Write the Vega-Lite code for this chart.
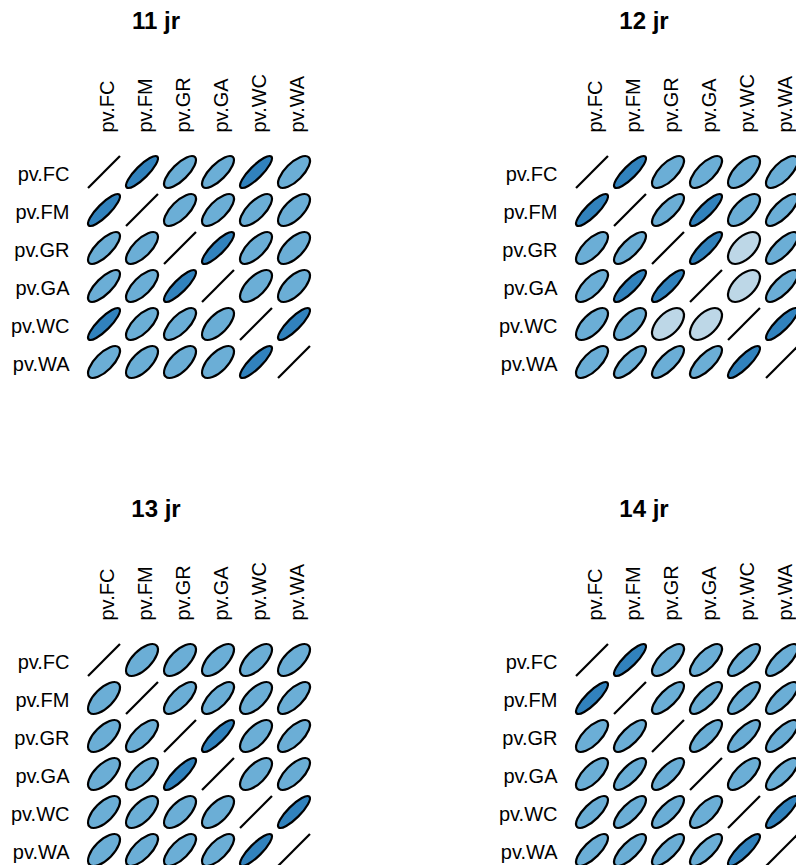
{
"$schema": "https://vega.github.io/schema/vega-lite/v6.json",
"background": "white",
"padding": {"left": 10, "top": 10, "right": 0, "bottom": 0},
"config": {
  "view": {"stroke": null},
  "font": "Liberation Sans",
  "axis": {"domain": false, "ticks": false, "grid": false, "title": null, "labelFont": "Liberation Sans", "labelFontSize": 20, "labelColor": "black", "labelOverlap": false},
  "title": {"font": "Liberation Sans", "fontSize": 24, "fontWeight": "bold", "color": "black", "offset": 39, "dx": -43}
},
"data": {"values": [
{"panel":"11 jr","row":"pv.FC","col":"pv.FC","r":1},{"panel":"11 jr","row":"pv.FC","col":"pv.FM","r":0.85},{"panel":"11 jr","row":"pv.FC","col":"pv.GR","r":0.75},{"panel":"11 jr","row":"pv.FC","col":"pv.GA","r":0.75},{"panel":"11 jr","row":"pv.FC","col":"pv.WC","r":0.85},{"panel":"11 jr","row":"pv.FC","col":"pv.WA","r":0.7},
{"panel":"11 jr","row":"pv.FM","col":"pv.FC","r":0.85},{"panel":"11 jr","row":"pv.FM","col":"pv.FM","r":1},{"panel":"11 jr","row":"pv.FM","col":"pv.GR","r":0.7},{"panel":"11 jr","row":"pv.FM","col":"pv.GA","r":0.7},{"panel":"11 jr","row":"pv.FM","col":"pv.WC","r":0.7},{"panel":"11 jr","row":"pv.FM","col":"pv.WA","r":0.65},
{"panel":"11 jr","row":"pv.GR","col":"pv.FC","r":0.75},{"panel":"11 jr","row":"pv.GR","col":"pv.FM","r":0.7},{"panel":"11 jr","row":"pv.GR","col":"pv.GR","r":1},{"panel":"11 jr","row":"pv.GR","col":"pv.GA","r":0.85},{"panel":"11 jr","row":"pv.GR","col":"pv.WC","r":0.7},{"panel":"11 jr","row":"pv.GR","col":"pv.WA","r":0.65},
{"panel":"11 jr","row":"pv.GA","col":"pv.FC","r":0.75},{"panel":"11 jr","row":"pv.GA","col":"pv.FM","r":0.7},{"panel":"11 jr","row":"pv.GA","col":"pv.GR","r":0.85},{"panel":"11 jr","row":"pv.GA","col":"pv.GA","r":1},{"panel":"11 jr","row":"pv.GA","col":"pv.WC","r":0.65},{"panel":"11 jr","row":"pv.GA","col":"pv.WA","r":0.65},
{"panel":"11 jr","row":"pv.WC","col":"pv.FC","r":0.85},{"panel":"11 jr","row":"pv.WC","col":"pv.FM","r":0.7},{"panel":"11 jr","row":"pv.WC","col":"pv.GR","r":0.7},{"panel":"11 jr","row":"pv.WC","col":"pv.GA","r":0.65},{"panel":"11 jr","row":"pv.WC","col":"pv.WC","r":1},{"panel":"11 jr","row":"pv.WC","col":"pv.WA","r":0.85},
{"panel":"11 jr","row":"pv.WA","col":"pv.FC","r":0.7},{"panel":"11 jr","row":"pv.WA","col":"pv.FM","r":0.65},{"panel":"11 jr","row":"pv.WA","col":"pv.GR","r":0.65},{"panel":"11 jr","row":"pv.WA","col":"pv.GA","r":0.65},{"panel":"11 jr","row":"pv.WA","col":"pv.WC","r":0.85},{"panel":"11 jr","row":"pv.WA","col":"pv.WA","r":1},
{"panel":"12 jr","row":"pv.FC","col":"pv.FC","r":1},{"panel":"12 jr","row":"pv.FC","col":"pv.FM","r":0.85},{"panel":"12 jr","row":"pv.FC","col":"pv.GR","r":0.7},{"panel":"12 jr","row":"pv.FC","col":"pv.GA","r":0.7},{"panel":"12 jr","row":"pv.FC","col":"pv.WC","r":0.65},{"panel":"12 jr","row":"pv.FC","col":"pv.WA","r":0.7},
{"panel":"12 jr","row":"pv.FM","col":"pv.FC","r":0.85},{"panel":"12 jr","row":"pv.FM","col":"pv.FM","r":1},{"panel":"12 jr","row":"pv.FM","col":"pv.GR","r":0.75},{"panel":"12 jr","row":"pv.FM","col":"pv.GA","r":0.85},{"panel":"12 jr","row":"pv.FM","col":"pv.WC","r":0.65},{"panel":"12 jr","row":"pv.FM","col":"pv.WA","r":0.75},
{"panel":"12 jr","row":"pv.GR","col":"pv.FC","r":0.7},{"panel":"12 jr","row":"pv.GR","col":"pv.FM","r":0.75},{"panel":"12 jr","row":"pv.GR","col":"pv.GR","r":1},{"panel":"12 jr","row":"pv.GR","col":"pv.GA","r":0.85},{"panel":"12 jr","row":"pv.GR","col":"pv.WC","r":0.55},{"panel":"12 jr","row":"pv.GR","col":"pv.WA","r":0.75},
{"panel":"12 jr","row":"pv.GA","col":"pv.FC","r":0.7},{"panel":"12 jr","row":"pv.GA","col":"pv.FM","r":0.85},{"panel":"12 jr","row":"pv.GA","col":"pv.GR","r":0.85},{"panel":"12 jr","row":"pv.GA","col":"pv.GA","r":1},{"panel":"12 jr","row":"pv.GA","col":"pv.WC","r":0.55},{"panel":"12 jr","row":"pv.GA","col":"pv.WA","r":0.75},
{"panel":"12 jr","row":"pv.WC","col":"pv.FC","r":0.65},{"panel":"12 jr","row":"pv.WC","col":"pv.FM","r":0.65},{"panel":"12 jr","row":"pv.WC","col":"pv.GR","r":0.55},{"panel":"12 jr","row":"pv.WC","col":"pv.GA","r":0.55},{"panel":"12 jr","row":"pv.WC","col":"pv.WC","r":1},{"panel":"12 jr","row":"pv.WC","col":"pv.WA","r":0.85},
{"panel":"12 jr","row":"pv.WA","col":"pv.FC","r":0.7},{"panel":"12 jr","row":"pv.WA","col":"pv.FM","r":0.75},{"panel":"12 jr","row":"pv.WA","col":"pv.GR","r":0.75},{"panel":"12 jr","row":"pv.WA","col":"pv.GA","r":0.75},{"panel":"12 jr","row":"pv.WA","col":"pv.WC","r":0.85},{"panel":"12 jr","row":"pv.WA","col":"pv.WA","r":1},
{"panel":"13 jr","row":"pv.FC","col":"pv.FC","r":1},{"panel":"13 jr","row":"pv.FC","col":"pv.FM","r":0.65},{"panel":"13 jr","row":"pv.FC","col":"pv.GR","r":0.65},{"panel":"13 jr","row":"pv.FC","col":"pv.GA","r":0.65},{"panel":"13 jr","row":"pv.FC","col":"pv.WC","r":0.65},{"panel":"13 jr","row":"pv.FC","col":"pv.WA","r":0.65},
{"panel":"13 jr","row":"pv.FM","col":"pv.FC","r":0.65},{"panel":"13 jr","row":"pv.FM","col":"pv.FM","r":1},{"panel":"13 jr","row":"pv.FM","col":"pv.GR","r":0.7},{"panel":"13 jr","row":"pv.FM","col":"pv.GA","r":0.7},{"panel":"13 jr","row":"pv.FM","col":"pv.WC","r":0.65},{"panel":"13 jr","row":"pv.FM","col":"pv.WA","r":0.7},
{"panel":"13 jr","row":"pv.GR","col":"pv.FC","r":0.65},{"panel":"13 jr","row":"pv.GR","col":"pv.FM","r":0.7},{"panel":"13 jr","row":"pv.GR","col":"pv.GR","r":1},{"panel":"13 jr","row":"pv.GR","col":"pv.GA","r":0.85},{"panel":"13 jr","row":"pv.GR","col":"pv.WC","r":0.65},{"panel":"13 jr","row":"pv.GR","col":"pv.WA","r":0.7},
{"panel":"13 jr","row":"pv.GA","col":"pv.FC","r":0.65},{"panel":"13 jr","row":"pv.GA","col":"pv.FM","r":0.7},{"panel":"13 jr","row":"pv.GA","col":"pv.GR","r":0.85},{"panel":"13 jr","row":"pv.GA","col":"pv.GA","r":1},{"panel":"13 jr","row":"pv.GA","col":"pv.WC","r":0.65},{"panel":"13 jr","row":"pv.GA","col":"pv.WA","r":0.7},
{"panel":"13 jr","row":"pv.WC","col":"pv.FC","r":0.65},{"panel":"13 jr","row":"pv.WC","col":"pv.FM","r":0.65},{"panel":"13 jr","row":"pv.WC","col":"pv.GR","r":0.65},{"panel":"13 jr","row":"pv.WC","col":"pv.GA","r":0.65},{"panel":"13 jr","row":"pv.WC","col":"pv.WC","r":1},{"panel":"13 jr","row":"pv.WC","col":"pv.WA","r":0.85},
{"panel":"13 jr","row":"pv.WA","col":"pv.FC","r":0.65},{"panel":"13 jr","row":"pv.WA","col":"pv.FM","r":0.7},{"panel":"13 jr","row":"pv.WA","col":"pv.GR","r":0.7},{"panel":"13 jr","row":"pv.WA","col":"pv.GA","r":0.7},{"panel":"13 jr","row":"pv.WA","col":"pv.WC","r":0.85},{"panel":"13 jr","row":"pv.WA","col":"pv.WA","r":1},
{"panel":"14 jr","row":"pv.FC","col":"pv.FC","r":1},{"panel":"14 jr","row":"pv.FC","col":"pv.FM","r":0.85},{"panel":"14 jr","row":"pv.FC","col":"pv.GR","r":0.7},{"panel":"14 jr","row":"pv.FC","col":"pv.GA","r":0.7},{"panel":"14 jr","row":"pv.FC","col":"pv.WC","r":0.75},{"panel":"14 jr","row":"pv.FC","col":"pv.WA","r":0.75},
{"panel":"14 jr","row":"pv.FM","col":"pv.FC","r":0.85},{"panel":"14 jr","row":"pv.FM","col":"pv.FM","r":1},{"panel":"14 jr","row":"pv.FM","col":"pv.GR","r":0.75},{"panel":"14 jr","row":"pv.FM","col":"pv.GA","r":0.75},{"panel":"14 jr","row":"pv.FM","col":"pv.WC","r":0.75},{"panel":"14 jr","row":"pv.FM","col":"pv.WA","r":0.75},
{"panel":"14 jr","row":"pv.GR","col":"pv.FC","r":0.7},{"panel":"14 jr","row":"pv.GR","col":"pv.FM","r":0.75},{"panel":"14 jr","row":"pv.GR","col":"pv.GR","r":1},{"panel":"14 jr","row":"pv.GR","col":"pv.GA","r":0.75},{"panel":"14 jr","row":"pv.GR","col":"pv.WC","r":0.75},{"panel":"14 jr","row":"pv.GR","col":"pv.WA","r":0.75},
{"panel":"14 jr","row":"pv.GA","col":"pv.FC","r":0.7},{"panel":"14 jr","row":"pv.GA","col":"pv.FM","r":0.75},{"panel":"14 jr","row":"pv.GA","col":"pv.GR","r":0.75},{"panel":"14 jr","row":"pv.GA","col":"pv.GA","r":1},{"panel":"14 jr","row":"pv.GA","col":"pv.WC","r":0.7},{"panel":"14 jr","row":"pv.GA","col":"pv.WA","r":0.75},
{"panel":"14 jr","row":"pv.WC","col":"pv.FC","r":0.75},{"panel":"14 jr","row":"pv.WC","col":"pv.FM","r":0.75},{"panel":"14 jr","row":"pv.WC","col":"pv.GR","r":0.75},{"panel":"14 jr","row":"pv.WC","col":"pv.GA","r":0.7},{"panel":"14 jr","row":"pv.WC","col":"pv.WC","r":1},{"panel":"14 jr","row":"pv.WC","col":"pv.WA","r":0.85},
{"panel":"14 jr","row":"pv.WA","col":"pv.FC","r":0.75},{"panel":"14 jr","row":"pv.WA","col":"pv.FM","r":0.75},{"panel":"14 jr","row":"pv.WA","col":"pv.GR","r":0.75},{"panel":"14 jr","row":"pv.WA","col":"pv.GA","r":0.75},{"panel":"14 jr","row":"pv.WA","col":"pv.WC","r":0.85},{"panel":"14 jr","row":"pv.WA","col":"pv.WA","r":1}
]},
"columns": 2,
"bounds": "flush",
"spacing": 260,
"concat": [
{"title": "11 jr", "width": 228, "height": 228,
 "transform": [{"filter": "datum.panel === '11 jr'"}],
 "mark": {"type": "point", "filled": true, "size": 1020, "stroke": "black", "strokeWidth": 2.2, "opacity": 1},
 "encoding": {
  "x": {"field": "col", "type": "nominal", "sort": ["pv.FC","pv.FM","pv.GR","pv.GA","pv.WC","pv.WA"], "axis": {"orient": "top", "labelAngle": -90, "labelPadding": 21, "labelOffset": 3}},
  "y": {"field": "row", "type": "nominal", "sort": ["pv.FC","pv.FM","pv.GR","pv.GA","pv.WC","pv.WA"], "axis": {"orient": "left", "labelPadding": 16, "labelOffset": 2}},
  "shape": {"field": "r", "type": "ordinal", "legend": null, "scale": {"domain": [0.55,0.6,0.65,0.7,0.75,0.8,0.85,0.9,1], "range": [
   "M0.8803,-0.8803C0.6183,-1.1423 0.0119,-0.9605 -0.4743,-0.4743C-0.9605,0.0119 -1.1423,0.6183 -0.8803,0.8803C-0.6183,1.1423 -0.0119,0.9605 0.4743,0.4743C0.9605,-0.0119 1.1423,-0.6183 0.8803,-0.8803Z",
   "M0.8944,-0.8944C0.6474,-1.1414 0.0468,-0.9412 -0.4472,-0.4472C-0.9412,0.0468 -1.1414,0.6474 -0.8944,0.8944C-0.6474,1.1414 -0.0468,0.9412 0.4472,0.4472C0.9412,-0.0468 1.1414,-0.6474 0.8944,-0.8944Z",
   "M0.9083,-0.9083C0.6773,-1.1393 0.0834,-0.92 -0.4183,-0.4183C-0.92,0.0834 -1.1393,0.6773 -0.9083,0.9083C-0.6773,1.1393 -0.0834,0.92 0.4183,0.4183C0.92,-0.0834 1.1393,-0.6773 0.9083,-0.9083Z",
   "M0.922,-0.922C0.7081,-1.1359 0.1219,-0.8965 -0.3873,-0.3873C-0.8965,0.1219 -1.1359,0.7081 -0.922,0.922C-0.7081,1.1359 -0.1219,0.8965 0.3873,0.3873C0.8965,-0.1219 1.1359,-0.7081 0.922,-0.922Z",
   "M0.9354,-0.9354C0.7401,-1.1307 0.163,-0.8702 -0.3536,-0.3536C-0.8702,0.163 -1.1307,0.7401 -0.9354,0.9354C-0.7401,1.1307 -0.163,0.8702 0.3536,0.3536C0.8702,-0.163 1.1307,-0.7401 0.9354,-0.9354Z",
   "M0.9487,-0.9487C0.7741,-1.1233 0.2078,-0.8402 -0.3162,-0.3162C-0.8402,0.2078 -1.1233,0.7741 -0.9487,0.9487C-0.7741,1.1233 -0.2078,0.8402 0.3162,0.3162C0.8402,-0.2078 1.1233,-0.7741 0.9487,-0.9487Z",
   "M0.9618,-0.9618C0.8105,-1.1131 0.2573,-0.8051 -0.2739,-0.2739C-0.8051,0.2573 -1.1131,0.8105 -0.9618,0.9618C-0.8105,1.1131 -0.2573,0.8051 0.2739,0.2739C0.8051,-0.2573 1.1131,-0.8105 0.9618,-0.9618Z",
   "M0.9747,-0.9747C0.8512,-1.0982 0.3147,-0.7619 -0.2236,-0.2236C-0.7619,0.3147 -1.0982,0.8512 -0.9747,0.9747C-0.8512,1.0982 -0.3147,0.7619 0.2236,0.2236C0.7619,-0.3147 1.0982,-0.8512 0.9747,-0.9747Z",
   "M-1,1L1,-1"]}},
  "color": {"field": "r", "type": "quantitative", "legend": null, "scale": {"type": "threshold", "domain": [0.6, 0.8], "range": ["#BDD7E7", "#6BAED6", "#3182BD"]}}
 }},
{"title": "12 jr", "width": 228, "height": 228,
 "transform": [{"filter": "datum.panel === '12 jr'"}],
 "mark": {"type": "point", "filled": true, "size": 1020, "stroke": "black", "strokeWidth": 2.2, "opacity": 1},
 "encoding": {
  "x": {"field": "col", "type": "nominal", "sort": ["pv.FC","pv.FM","pv.GR","pv.GA","pv.WC","pv.WA"], "axis": {"orient": "top", "labelAngle": -90, "labelPadding": 21, "labelOffset": 3}},
  "y": {"field": "row", "type": "nominal", "sort": ["pv.FC","pv.FM","pv.GR","pv.GA","pv.WC","pv.WA"], "axis": {"orient": "left", "labelPadding": 16, "labelOffset": 2}},
  "shape": {"field": "r", "type": "ordinal", "legend": null, "scale": {"domain": [0.55,0.6,0.65,0.7,0.75,0.8,0.85,0.9,1], "range": [
   "M0.8803,-0.8803C0.6183,-1.1423 0.0119,-0.9605 -0.4743,-0.4743C-0.9605,0.0119 -1.1423,0.6183 -0.8803,0.8803C-0.6183,1.1423 -0.0119,0.9605 0.4743,0.4743C0.9605,-0.0119 1.1423,-0.6183 0.8803,-0.8803Z",
   "M0.8944,-0.8944C0.6474,-1.1414 0.0468,-0.9412 -0.4472,-0.4472C-0.9412,0.0468 -1.1414,0.6474 -0.8944,0.8944C-0.6474,1.1414 -0.0468,0.9412 0.4472,0.4472C0.9412,-0.0468 1.1414,-0.6474 0.8944,-0.8944Z",
   "M0.9083,-0.9083C0.6773,-1.1393 0.0834,-0.92 -0.4183,-0.4183C-0.92,0.0834 -1.1393,0.6773 -0.9083,0.9083C-0.6773,1.1393 -0.0834,0.92 0.4183,0.4183C0.92,-0.0834 1.1393,-0.6773 0.9083,-0.9083Z",
   "M0.922,-0.922C0.7081,-1.1359 0.1219,-0.8965 -0.3873,-0.3873C-0.8965,0.1219 -1.1359,0.7081 -0.922,0.922C-0.7081,1.1359 -0.1219,0.8965 0.3873,0.3873C0.8965,-0.1219 1.1359,-0.7081 0.922,-0.922Z",
   "M0.9354,-0.9354C0.7401,-1.1307 0.163,-0.8702 -0.3536,-0.3536C-0.8702,0.163 -1.1307,0.7401 -0.9354,0.9354C-0.7401,1.1307 -0.163,0.8702 0.3536,0.3536C0.8702,-0.163 1.1307,-0.7401 0.9354,-0.9354Z",
   "M0.9487,-0.9487C0.7741,-1.1233 0.2078,-0.8402 -0.3162,-0.3162C-0.8402,0.2078 -1.1233,0.7741 -0.9487,0.9487C-0.7741,1.1233 -0.2078,0.8402 0.3162,0.3162C0.8402,-0.2078 1.1233,-0.7741 0.9487,-0.9487Z",
   "M0.9618,-0.9618C0.8105,-1.1131 0.2573,-0.8051 -0.2739,-0.2739C-0.8051,0.2573 -1.1131,0.8105 -0.9618,0.9618C-0.8105,1.1131 -0.2573,0.8051 0.2739,0.2739C0.8051,-0.2573 1.1131,-0.8105 0.9618,-0.9618Z",
   "M0.9747,-0.9747C0.8512,-1.0982 0.3147,-0.7619 -0.2236,-0.2236C-0.7619,0.3147 -1.0982,0.8512 -0.9747,0.9747C-0.8512,1.0982 -0.3147,0.7619 0.2236,0.2236C0.7619,-0.3147 1.0982,-0.8512 0.9747,-0.9747Z",
   "M-1,1L1,-1"]}},
  "color": {"field": "r", "type": "quantitative", "legend": null, "scale": {"type": "threshold", "domain": [0.6, 0.8], "range": ["#BDD7E7", "#6BAED6", "#3182BD"]}}
 }},
{"title": "13 jr", "width": 228, "height": 228,
 "transform": [{"filter": "datum.panel === '13 jr'"}],
 "mark": {"type": "point", "filled": true, "size": 1020, "stroke": "black", "strokeWidth": 2.2, "opacity": 1},
 "encoding": {
  "x": {"field": "col", "type": "nominal", "sort": ["pv.FC","pv.FM","pv.GR","pv.GA","pv.WC","pv.WA"], "axis": {"orient": "top", "labelAngle": -90, "labelPadding": 21, "labelOffset": 3}},
  "y": {"field": "row", "type": "nominal", "sort": ["pv.FC","pv.FM","pv.GR","pv.GA","pv.WC","pv.WA"], "axis": {"orient": "left", "labelPadding": 16, "labelOffset": 2}},
  "shape": {"field": "r", "type": "ordinal", "legend": null, "scale": {"domain": [0.55,0.6,0.65,0.7,0.75,0.8,0.85,0.9,1], "range": [
   "M0.8803,-0.8803C0.6183,-1.1423 0.0119,-0.9605 -0.4743,-0.4743C-0.9605,0.0119 -1.1423,0.6183 -0.8803,0.8803C-0.6183,1.1423 -0.0119,0.9605 0.4743,0.4743C0.9605,-0.0119 1.1423,-0.6183 0.8803,-0.8803Z",
   "M0.8944,-0.8944C0.6474,-1.1414 0.0468,-0.9412 -0.4472,-0.4472C-0.9412,0.0468 -1.1414,0.6474 -0.8944,0.8944C-0.6474,1.1414 -0.0468,0.9412 0.4472,0.4472C0.9412,-0.0468 1.1414,-0.6474 0.8944,-0.8944Z",
   "M0.9083,-0.9083C0.6773,-1.1393 0.0834,-0.92 -0.4183,-0.4183C-0.92,0.0834 -1.1393,0.6773 -0.9083,0.9083C-0.6773,1.1393 -0.0834,0.92 0.4183,0.4183C0.92,-0.0834 1.1393,-0.6773 0.9083,-0.9083Z",
   "M0.922,-0.922C0.7081,-1.1359 0.1219,-0.8965 -0.3873,-0.3873C-0.8965,0.1219 -1.1359,0.7081 -0.922,0.922C-0.7081,1.1359 -0.1219,0.8965 0.3873,0.3873C0.8965,-0.1219 1.1359,-0.7081 0.922,-0.922Z",
   "M0.9354,-0.9354C0.7401,-1.1307 0.163,-0.8702 -0.3536,-0.3536C-0.8702,0.163 -1.1307,0.7401 -0.9354,0.9354C-0.7401,1.1307 -0.163,0.8702 0.3536,0.3536C0.8702,-0.163 1.1307,-0.7401 0.9354,-0.9354Z",
   "M0.9487,-0.9487C0.7741,-1.1233 0.2078,-0.8402 -0.3162,-0.3162C-0.8402,0.2078 -1.1233,0.7741 -0.9487,0.9487C-0.7741,1.1233 -0.2078,0.8402 0.3162,0.3162C0.8402,-0.2078 1.1233,-0.7741 0.9487,-0.9487Z",
   "M0.9618,-0.9618C0.8105,-1.1131 0.2573,-0.8051 -0.2739,-0.2739C-0.8051,0.2573 -1.1131,0.8105 -0.9618,0.9618C-0.8105,1.1131 -0.2573,0.8051 0.2739,0.2739C0.8051,-0.2573 1.1131,-0.8105 0.9618,-0.9618Z",
   "M0.9747,-0.9747C0.8512,-1.0982 0.3147,-0.7619 -0.2236,-0.2236C-0.7619,0.3147 -1.0982,0.8512 -0.9747,0.9747C-0.8512,1.0982 -0.3147,0.7619 0.2236,0.2236C0.7619,-0.3147 1.0982,-0.8512 0.9747,-0.9747Z",
   "M-1,1L1,-1"]}},
  "color": {"field": "r", "type": "quantitative", "legend": null, "scale": {"type": "threshold", "domain": [0.6, 0.8], "range": ["#BDD7E7", "#6BAED6", "#3182BD"]}}
 }},
{"title": "14 jr", "width": 228, "height": 228,
 "transform": [{"filter": "datum.panel === '14 jr'"}],
 "mark": {"type": "point", "filled": true, "size": 1020, "stroke": "black", "strokeWidth": 2.2, "opacity": 1},
 "encoding": {
  "x": {"field": "col", "type": "nominal", "sort": ["pv.FC","pv.FM","pv.GR","pv.GA","pv.WC","pv.WA"], "axis": {"orient": "top", "labelAngle": -90, "labelPadding": 21, "labelOffset": 3}},
  "y": {"field": "row", "type": "nominal", "sort": ["pv.FC","pv.FM","pv.GR","pv.GA","pv.WC","pv.WA"], "axis": {"orient": "left", "labelPadding": 16, "labelOffset": 2}},
  "shape": {"field": "r", "type": "ordinal", "legend": null, "scale": {"domain": [0.55,0.6,0.65,0.7,0.75,0.8,0.85,0.9,1], "range": [
   "M0.8803,-0.8803C0.6183,-1.1423 0.0119,-0.9605 -0.4743,-0.4743C-0.9605,0.0119 -1.1423,0.6183 -0.8803,0.8803C-0.6183,1.1423 -0.0119,0.9605 0.4743,0.4743C0.9605,-0.0119 1.1423,-0.6183 0.8803,-0.8803Z",
   "M0.8944,-0.8944C0.6474,-1.1414 0.0468,-0.9412 -0.4472,-0.4472C-0.9412,0.0468 -1.1414,0.6474 -0.8944,0.8944C-0.6474,1.1414 -0.0468,0.9412 0.4472,0.4472C0.9412,-0.0468 1.1414,-0.6474 0.8944,-0.8944Z",
   "M0.9083,-0.9083C0.6773,-1.1393 0.0834,-0.92 -0.4183,-0.4183C-0.92,0.0834 -1.1393,0.6773 -0.9083,0.9083C-0.6773,1.1393 -0.0834,0.92 0.4183,0.4183C0.92,-0.0834 1.1393,-0.6773 0.9083,-0.9083Z",
   "M0.922,-0.922C0.7081,-1.1359 0.1219,-0.8965 -0.3873,-0.3873C-0.8965,0.1219 -1.1359,0.7081 -0.922,0.922C-0.7081,1.1359 -0.1219,0.8965 0.3873,0.3873C0.8965,-0.1219 1.1359,-0.7081 0.922,-0.922Z",
   "M0.9354,-0.9354C0.7401,-1.1307 0.163,-0.8702 -0.3536,-0.3536C-0.8702,0.163 -1.1307,0.7401 -0.9354,0.9354C-0.7401,1.1307 -0.163,0.8702 0.3536,0.3536C0.8702,-0.163 1.1307,-0.7401 0.9354,-0.9354Z",
   "M0.9487,-0.9487C0.7741,-1.1233 0.2078,-0.8402 -0.3162,-0.3162C-0.8402,0.2078 -1.1233,0.7741 -0.9487,0.9487C-0.7741,1.1233 -0.2078,0.8402 0.3162,0.3162C0.8402,-0.2078 1.1233,-0.7741 0.9487,-0.9487Z",
   "M0.9618,-0.9618C0.8105,-1.1131 0.2573,-0.8051 -0.2739,-0.2739C-0.8051,0.2573 -1.1131,0.8105 -0.9618,0.9618C-0.8105,1.1131 -0.2573,0.8051 0.2739,0.2739C0.8051,-0.2573 1.1131,-0.8105 0.9618,-0.9618Z",
   "M0.9747,-0.9747C0.8512,-1.0982 0.3147,-0.7619 -0.2236,-0.2236C-0.7619,0.3147 -1.0982,0.8512 -0.9747,0.9747C-0.8512,1.0982 -0.3147,0.7619 0.2236,0.2236C0.7619,-0.3147 1.0982,-0.8512 0.9747,-0.9747Z",
   "M-1,1L1,-1"]}},
  "color": {"field": "r", "type": "quantitative", "legend": null, "scale": {"type": "threshold", "domain": [0.6, 0.8], "range": ["#BDD7E7", "#6BAED6", "#3182BD"]}}
 }}
]
}
